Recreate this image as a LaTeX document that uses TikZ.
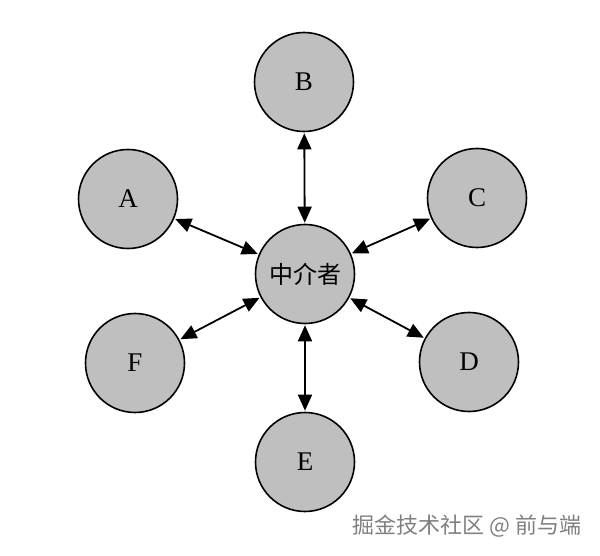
\documentclass[tikz,border=0pt]{standalone}
\usepackage{fontspec}
\setmainfont{Liberation Serif}
\newfontfamily\cjk{Noto Sans CJK SC}
\usetikzlibrary{arrows.meta}
\begin{document}
\begin{tikzpicture}[x=1pt,y=-1pt,
  party/.style={circle,draw=black,line width=1.6pt,fill=black!25,minimum size=99pt,inner sep=0pt,font=\fontsize{27}{27}\selectfont},
  link/.style={line width=1.8pt,{Triangle[length=16pt,width=14pt]}-{Triangle[length=16pt,width=14pt]},shorten <=1pt,shorten >=1pt}]
\useasboundingbox[fill=white] (0,0) rectangle (600,556);
\node[party] (M) at (305,274) {\cjk\fontsize{24}{24}\selectfont 中介者};
\node[party] (B) at (304,82) {B};
\node[party] (A) at (128,199) {A};
\node[party] (C) at (477,198) {C};
\node[party] (D) at (469,362) {D};
\node[party] (E) at (305,462) {E};
\node[party] (F) at (135,363) {F};
\foreach \n in {A,B,C,D,E,F}{\draw[link] (\n) -- (M);}
\node[anchor=east,text=black!50,font=\cjk\fontsize{22}{22}\selectfont] (W) at (585,526) {掘金技术社区 @ 前与端};
\end{tikzpicture}
\end{document}
